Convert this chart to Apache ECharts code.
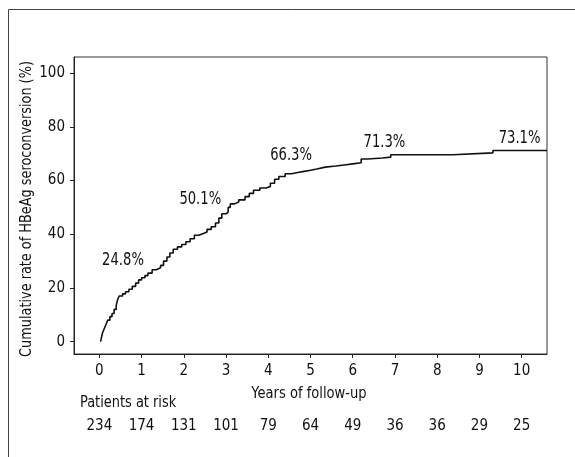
<!DOCTYPE html>
<html>
<head>
<meta charset="utf-8">
<script src="https://cdn.jsdelivr.net/npm/echarts@6/dist/echarts.min.js"></script>
<style>html,body{margin:0;padding:0;background:#fff;}#c{width:575px;height:457px;}</style>
</head>
<body>
<div id="c"></div>
<script>
// Kaplan-Meier cumulative HBeAg seroconversion (years, %)
var kmTime = [0.03,0.05,0.08,0.12,0.16,0.2,0.25,0.3,0.35,0.4,0.43,0.47,0.55,0.62,0.7,0.78,0.86,0.93,1.0,1.08,1.15,1.25,1.35,1.45,1.52,1.6,1.67,1.75,1.85,1.95,2.05,2.15,2.25,2.35,2.45,2.55,2.65,2.75,2.83,2.9,3.0,3.05,3.1,3.2,3.3,3.45,3.55,3.65,3.8,3.95,4.05,4.15,4.25,4.4,4.55,4.7,4.85,5.0,5.15,5.35,5.6,5.8,6.0,6.2,6.35,6.7,6.9,8.37,9.32,10.6];
var kmRate = [0,1.5,3.5,5,6.5,8,9.3,10.5,12,13.5,15.5,17,17.8,18.6,19.5,20.6,21.8,23,23.8,24.6,25.5,26.8,27.5,28.4,30,31.5,33,34.4,35.3,36.2,37.2,38.3,39.6,40.2,40.8,41.8,42.8,44.2,46,47.6,48.2,50,51.3,52,52.8,54,55.2,56.4,57.2,57.8,59,60.5,61.5,62.5,63,63.4,63.8,64.3,65,65.4,65.8,66.2,66.6,68,68.4,68.7,69.6,70.3,71.2,71.2];
var xTicks = [0,1,2,3,4,5,6,7,8,9,10];
var yTicks = [0,20,40,60,80,100];
var atRisk = [234,174,131,101,79,64,49,36,36,29,25];
var annotText = ['24.8%','50.1%','66.3%','71.3%','73.1%'];
var annotX = [0.56,2.39,4.54,6.75,9.95];
var annotY = [30.1,52.9,69.2,74.0,75.8];

var FONT = "'Liberation Sans Narrow','DejaVu Sans Condensed','Roboto Condensed',sans-serif";
var chart = echarts.init(document.getElementById('c'), null, {renderer:'canvas'});
var kmData = kmTime.map(function(t,i){return [t,kmRate[i]];});
var annData = annotText.map(function(s,i){return [annotX[i],annotY[i],i];});

chart.setOption({
  animation:false,
  backgroundColor:'#fff',
  grid:{left:74,top:57,right:28,bottom:103,show:true,borderColor:'#333',borderWidth:1,backgroundColor:'transparent'},
  xAxis:[{
    type:'value',min:-0.6,max:10.6,
    axisLine:{show:true,onZero:false,lineStyle:{color:'#222',width:1}},
    axisTick:{show:true,inside:false,length:4,customValues:xTicks,lineStyle:{color:'#222'}},
    axisLabel:{customValues:xTicks,margin:10,color:'#111',fontSize:15,fontFamily:FONT},
    splitLine:{show:false}
  },{
    type:'value',min:-0.6,max:10.6,position:'bottom',offset:55,gridIndex:0,
    axisLine:{show:false,onZero:false},axisTick:{show:false},splitLine:{show:false},
    axisLabel:{customValues:xTicks,margin:10,color:'#111',fontSize:15,fontFamily:FONT,
      formatter:function(v){var i=Math.round(v);return atRisk[i]!==undefined?String(atRisk[i]):'';}}
  }],
  yAxis:{
    type:'value',min:-4.6,max:106,
    axisLine:{show:true,onZero:false,lineStyle:{color:'#222',width:1}},
    axisTick:{show:true,inside:false,length:4,customValues:yTicks,lineStyle:{color:'#222'}},
    axisLabel:{customValues:yTicks,margin:9,color:'#111',fontSize:15,fontFamily:FONT},
    splitLine:{show:false}
  },
  series:[{
    type:'line',step:'end',data:kmData,showSymbol:false,symbol:'none',
    lineStyle:{color:'#111',width:1.6},silent:true
  },{
    type:'custom',data:annData,silent:true,clip:false,
    renderItem:function(params,api){
      var p = api.coord([api.value(0),api.value(1)]);
      return {type:'text',x:p[0],y:p[1],scaleX:0.86,
        style:{text:annotText[api.value(2)],fontSize:17,fontFamily:FONT,fill:'#111',align:'center',verticalAlign:'middle'}};
    }
  }],
  graphic:[
    {type:'line',shape:{x1:8.5,y1:9.5,x2:575,y2:9.5},style:{stroke:'#444',lineWidth:1}},
    {type:'line',shape:{x1:8.5,y1:9.5,x2:8.5,y2:457},style:{stroke:'#444',lineWidth:1}},
    {type:'text',x:27,y:209,rotation:Math.PI/2,scaleX:0.894,style:{text:'Cumulative rate of HBeAg seroconversion (%)',fontSize:16,fontFamily:FONT,fill:'#111',textAlign:'center',textVerticalAlign:'middle'}},
    {type:'text',x:309,y:394,scaleX:0.91,style:{text:'Years of follow-up',fontSize:16,fontFamily:FONT,fill:'#111',textAlign:'center',textVerticalAlign:'middle'}},
    {type:'text',x:80,y:403,scaleX:0.9,style:{text:'Patients at risk',fontSize:16,fontFamily:FONT,fill:'#111',textAlign:'left',textVerticalAlign:'middle'}}
  ]
});
</script>
</body>
</html>
